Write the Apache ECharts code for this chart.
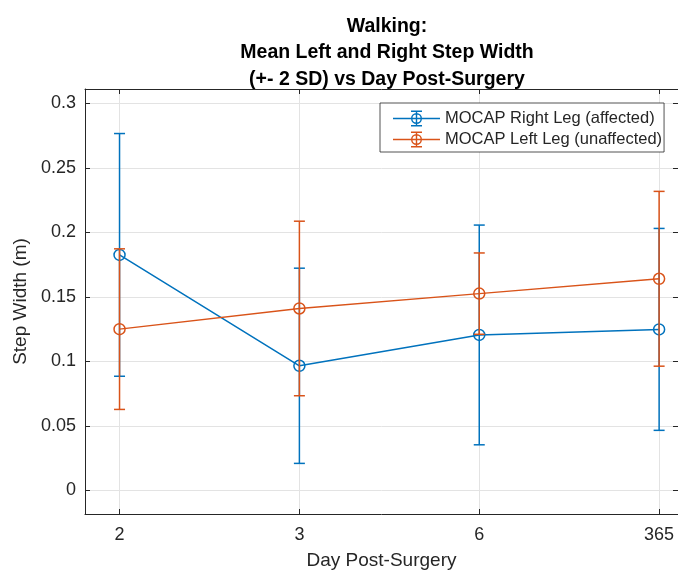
<!DOCTYPE html>
<html>
<head>
<meta charset="utf-8">
<script src="https://cdn.jsdelivr.net/npm/echarts@6/dist/echarts.min.js"></script>
<style>html,body{margin:0;padding:0;background:#fff;}#c{width:678px;height:575px;}</style>
</head>
<body>
<div id="c"></div>
<script>
// ---- data ----
const categories = ['2', '3', '6', '365'];
const rightMean = [0.1825, 0.0966, 0.1205, 0.1248];
const rightErr  = [0.0940, 0.0756, 0.0851, 0.0782];
const leftMean  = [0.1250, 0.1410, 0.1525, 0.1640];
const leftErr   = [0.0622, 0.0676, 0.0315, 0.0677];
const yTicks = [0, 0.05, 0.1, 0.15, 0.2, 0.25, 0.3];
const xTicks = [1, 2, 3, 4];

const BLUE = '#0072BD', ORANGE = '#D95319', AX = '#262626';
const FONT = 'Liberation Sans, Arial, Helvetica, sans-serif';

const chart = echarts.init(document.getElementById('c'), null, {renderer: 'canvas'});

function lineData(m) { return m.map((v, i) => [xTicks[i], v]); }
function errData(m, e) { return m.map((v, i) => [xTicks[i], v - e[i], v + e[i]]); }

function errRender(color) {
  return function (params, api) {
    const x = api.value(0);
    const lo = api.coord([x, api.value(1)]);
    const hi = api.coord([x, api.value(2)]);
    const hw = 5.5;
    const st = {stroke: color, lineWidth: 1.5};
    return {
      type: 'group',
      children: [
        {type: 'line', shape: {x1: lo[0], y1: lo[1], x2: hi[0], y2: hi[1]}, style: st},
        {type: 'line', shape: {x1: lo[0] - hw, y1: lo[1], x2: lo[0] + hw, y2: lo[1]}, style: st},
        {type: 'line', shape: {x1: hi[0] - hw, y1: hi[1], x2: hi[0] + hw, y2: hi[1]}, style: st}
      ]
    };
  };
}

const legendIcon = 'path://M0 7.3H47V8.7H0Z M22.8 0.6H24.2V15.4H22.8Z M18 0H29V1.4H18Z M18 14.6H29V16H18Z ' +
  'M29 8A5.5 5.5 0 1 1 18 8A5.5 5.5 0 1 1 29 8Z M27.6 8A4.1 4.1 0 1 0 19.4 8A4.1 4.1 0 1 0 27.6 8Z';

const gridBox = {left: 85, top: 89, width: 597, height: 428};

const option = {
  backgroundColor: '#fff',
  animation: false,
  title: {
    text: 'Walking:\nMean Left and Right Step Width\n(+- 2 SD) vs Day Post-Surgery',
    left: 382, top: 8, textAlign: 'center',
    textStyle: {fontFamily: FONT, fontSize: 19.5, fontWeight: 'bold', color: '#000', lineHeight: 26.7}
  },
  legend: {
    orient: 'vertical', left: 380, top: 103,
    backgroundColor: '#fff', borderColor: AX, borderWidth: 0.8, borderRadius: 0,
    padding: [7, 2, 4, 13], itemGap: 4, itemWidth: 47, itemHeight: 16,
    symbolKeepAspect: false,
    textStyle: {fontFamily: FONT, fontSize: 16.5, color: AX},
    data: [
      {name: 'MOCAP Right Leg (affected)', icon: legendIcon, itemStyle: {color: BLUE, borderWidth: 0}},
      {name: 'MOCAP Left Leg (unaffected)', icon: legendIcon, itemStyle: {color: ORANGE, borderWidth: 0}}
    ]
  },
  grid: gridBox,
  xAxis: [{
    type: 'value', min: 0.808, max: 4.105,
    axisLine: {show: true, onZero: false, lineStyle: {color: AX, width: 1}},
    axisTick: {show: true, inside: true, length: 5, customValues: xTicks, lineStyle: {color: AX}},
    axisLabel: {customValues: xTicks, margin: 12, color: AX, fontFamily: FONT, fontSize: 18,
      formatter: v => categories[Math.round(v) - 1]},
    splitLine: {show: true, lineStyle: {color: '#e3e3e3', width: 1}},
    name: 'Day Post-Surgery', nameLocation: 'middle', nameGap: 37,
    nameTextStyle: {fontFamily: FONT, fontSize: 19, color: AX}
  }, {
    type: 'value', position: 'top', min: 0.808, max: 4.105,
    axisLine: {show: true, onZero: false, lineStyle: {color: AX, width: 1}},
    axisTick: {show: true, inside: true, length: 5, customValues: xTicks, lineStyle: {color: AX}},
    axisLabel: {show: false}, splitLine: {show: false}
  }],
  yAxis: [{
    type: 'value', min: -0.0182, max: 0.311,
    axisLine: {show: true, onZero: false, lineStyle: {color: AX, width: 1}},
    axisTick: {show: true, inside: true, length: 5, customValues: yTicks, lineStyle: {color: AX}},
    axisLabel: {customValues: yTicks, margin: 9, color: AX, fontFamily: FONT, fontSize: 18,
      formatter: v => String(+v.toFixed(2))},
    splitLine: {show: true, lineStyle: {color: '#e3e3e3', width: 1}},
    name: 'Step Width (m)', nameLocation: 'middle', nameGap: 50, nameRotate: 90,
    nameTextStyle: {fontFamily: FONT, fontSize: 19, color: AX}
  }, {
    type: 'value', position: 'right', min: -0.0182, max: 0.311,
    axisLine: {show: true, onZero: false, lineStyle: {color: AX, width: 1}},
    axisTick: {show: true, inside: true, length: 5, customValues: yTicks, lineStyle: {color: AX}},
    axisLabel: {show: false}, splitLine: {show: false}
  }],
  series: [
    {
      name: 'MOCAP Right Leg (affected)', type: 'custom', xAxisIndex: 0, yAxisIndex: 0,
      renderItem: errRender(BLUE), data: errData(rightMean, rightErr), itemStyle: {color: BLUE}, z: 3,
      encode: {x: 0, y: [1, 2]}
    },
    {
      name: 'MOCAP Right Leg (affected)', type: 'line', data: lineData(rightMean),
      symbol: 'circle', symbolSize: 11,
      lineStyle: {color: BLUE, width: 1.5},
      itemStyle: {color: 'rgba(0,0,0,0)', borderWidth: 1.5, borderColor: BLUE},
      z: 3
    },
    {
      name: 'MOCAP Left Leg (unaffected)', type: 'custom', xAxisIndex: 0, yAxisIndex: 0,
      renderItem: errRender(ORANGE), data: errData(leftMean, leftErr), itemStyle: {color: ORANGE}, z: 4,
      encode: {x: 0, y: [1, 2]}
    },
    {
      name: 'MOCAP Left Leg (unaffected)', type: 'line', data: lineData(leftMean),
      symbol: 'circle', symbolSize: 11,
      lineStyle: {color: ORANGE, width: 1.5},
      itemStyle: {color: 'rgba(0,0,0,0)', borderWidth: 1.5, borderColor: ORANGE},
      z: 4
    }
  ]
};
chart.setOption(option);
</script>
</body>
</html>
